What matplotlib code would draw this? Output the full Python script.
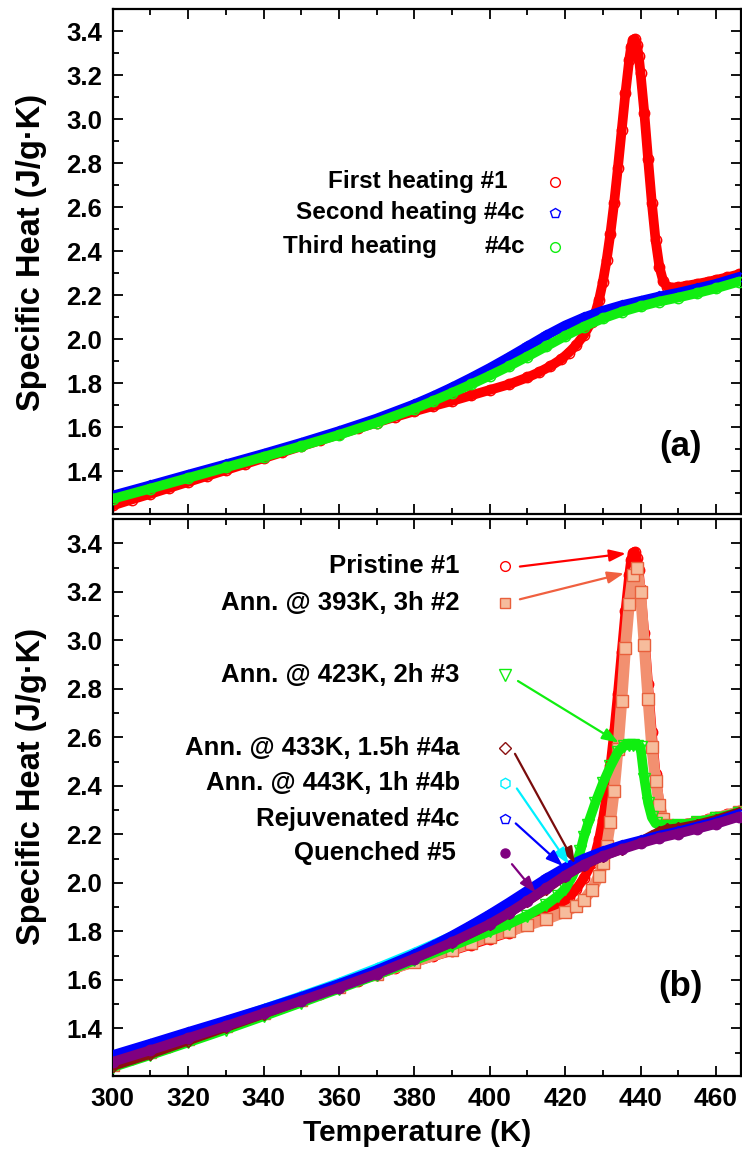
import matplotlib
matplotlib.use("Agg")
import matplotlib.pyplot as plt
from matplotlib.ticker import MultipleLocator

plt.rcParams['font.family'] = ['Liberation Sans', 'DejaVu Sans']
plt.rcParams['font.weight'] = 'bold'

# ---- data ----
# pristine sample #1 (first heating, panel a and b)
t_pristine = [300, 305, 310, 315, 320, 325, 330, 335, 340, 345, 350, 355, 360, 365, 370, 375,
              380, 385, 390, 395, 400, 405, 410, 413, 416, 419, 421, 423, 425, 427, 428, 429,
              430, 431, 432, 433, 434, 435, 436, 437, 437.5, 438, 438.5, 439, 439.5, 440, 441,
              442, 443, 444, 445, 446, 447, 448, 450, 452, 455, 458, 460, 463, 466]
cp_pristine = [1.245, 1.272, 1.298, 1.325, 1.352, 1.379, 1.406, 1.433, 1.460, 1.487, 1.514, 1.541,
               1.568, 1.595, 1.622, 1.648, 1.673, 1.697, 1.720, 1.745, 1.770, 1.795, 1.827, 1.850,
               1.877, 1.910, 1.940, 1.975, 2.020, 2.080, 2.120, 2.180, 2.260, 2.360, 2.480, 2.620,
               2.780, 2.950, 3.120, 3.270, 3.330, 3.360, 3.365, 3.340, 3.290, 3.210, 3.030, 2.820,
               2.620, 2.450, 2.330, 2.265, 2.240, 2.235, 2.237, 2.243, 2.252, 2.262, 2.270, 2.282,
               2.295]

# rejuvenated #4c (second heating)
t_rejuv = [300, 310, 320, 330, 340, 350, 360, 370, 380, 385, 390, 395, 400, 405, 410, 415,
           420, 425, 430, 435, 440, 445, 450, 455, 460, 466]
cp_rejuv = [1.290, 1.337, 1.385, 1.432, 1.480, 1.530, 1.583, 1.640, 1.705, 1.742, 1.782, 1.825,
            1.870, 1.918, 1.968, 2.018, 2.063, 2.100, 2.130, 2.155, 2.175, 2.195, 2.212, 2.232,
            2.252, 2.283]

# third heating #4c
t_third = [300, 310, 320, 330, 340, 350, 360, 370, 380, 385, 390, 395, 400, 405, 410, 415,
           420, 425, 430, 435, 440, 445, 450, 455, 460, 466]
cp_third = [1.275, 1.322, 1.370, 1.418, 1.466, 1.515, 1.566, 1.622, 1.685, 1.720, 1.757, 1.795,
            1.835, 1.877, 1.922, 1.968, 2.015, 2.058, 2.095, 2.125, 2.150, 2.172, 2.190, 2.210,
            2.232, 2.262]

# annealed 393K 3h #2
t_ann2 = [300, 310, 320, 330, 340, 350, 360, 370, 380, 390, 395, 400, 405, 410, 415, 420, 423,
          425, 427, 429, 430, 431, 432, 433, 434, 435, 436, 437, 438, 439, 440, 441, 442, 443,
          444, 445, 446, 447, 448, 450, 455, 460, 466]
cp_ann2 = [1.250, 1.302, 1.356, 1.410, 1.464, 1.518, 1.572, 1.625, 1.675, 1.725, 1.752, 1.778,
           1.800, 1.825, 1.850, 1.880, 1.905, 1.930, 1.970, 2.030, 2.080, 2.150, 2.250, 2.380,
           2.550, 2.750, 2.970, 3.150, 3.270, 3.300, 3.200, 2.980, 2.760, 2.560, 2.420, 2.320,
           2.265, 2.240, 2.230, 2.232, 2.248, 2.268, 2.292]

# annealed 423K 2h #3
t_ann3 = [300, 310, 320, 330, 340, 350, 360, 370, 380, 390, 400, 405, 410, 415, 418, 420, 422,
          423, 424, 425, 426, 428, 430, 432, 434, 435.5, 437, 438, 439, 440, 441, 442, 443, 444,
          446, 448, 450, 455, 460, 466]
cp_ann3 = [1.240, 1.290, 1.342, 1.395, 1.450, 1.506, 1.563, 1.620, 1.680, 1.740, 1.800, 1.830,
           1.865, 1.910, 1.945, 1.975, 2.030, 2.080, 2.130, 2.190, 2.240, 2.330, 2.410, 2.480,
           2.540, 2.565, 2.568, 2.568, 2.566, 2.560, 2.430, 2.330, 2.270, 2.245, 2.235, 2.235,
           2.238, 2.250, 2.268, 2.290]

# annealed 433K 1.5h #4a
t_ann4a = [300, 310, 320, 330, 340, 350, 360, 370, 380, 390, 400, 405, 410, 415, 420, 425, 430,
           435, 440, 443, 445, 447, 450, 455, 460, 466]
cp_ann4a = [1.245, 1.295, 1.350, 1.405, 1.460, 1.515, 1.572, 1.630, 1.690, 1.755, 1.830, 1.875,
            1.925, 1.975, 2.030, 2.075, 2.110, 2.140, 2.170, 2.195, 2.210, 2.220, 2.225, 2.240,
            2.260, 2.290]

# annealed 443K 1h #4b
t_ann4b = [300, 310, 320, 330, 340, 350, 360, 370, 380, 390, 400, 405, 410, 415, 420, 425, 430,
           435, 440, 445, 450, 455, 460, 466]
cp_ann4b = [1.275, 1.325, 1.377, 1.428, 1.480, 1.533, 1.588, 1.648, 1.712, 1.780, 1.855, 1.900,
            1.950, 2.000, 2.050, 2.090, 2.125, 2.150, 2.172, 2.190, 2.205, 2.225, 2.245, 2.275]

# quenched #5
t_quench = [300, 310, 320, 330, 340, 350, 360, 370, 380, 390, 400, 405, 410, 415, 420, 425, 430,
            435, 440, 445, 450, 455, 460, 466]
cp_quench = [1.262, 1.310, 1.360, 1.410, 1.462, 1.514, 1.568, 1.625, 1.688, 1.755, 1.830, 1.875,
             1.925, 1.978, 2.030, 2.075, 2.110, 2.138, 2.163, 2.185, 2.203, 2.223, 2.243, 2.272]

labels_b = ["Pristine #1", "Ann. @ 393K, 3h #2", "Ann. @ 423K, 2h #3", "Ann. @ 433K, 1.5h #4a",
            "Ann. @ 443K, 1h #4b", "Rejuvenated #4c", "Quenched #5"]

RED = "#ff0000"
SALMON_EDGE = "#e8603c"
SALMON_FACE = "#f6bc9c"
GREEN = "#10ee10"
DARKRED = "#8b1010"
CYAN = "#00f0ff"
BLUE = "#0000ff"
PURPLE = "#800080"


def draw_curve(ax, t, cp, color, marker, face="none", ms=7.5, lw=7, band=None, z=2):
    ax.plot(t, cp, "-", color=band or color, lw=lw, solid_capstyle="round",
            solid_joinstyle="round", zorder=z)
    ax.plot(t, cp, ls="none", marker=marker, mfc=face, mec=color, ms=ms, mew=1.0, zorder=z)


def style_axis(ax):
    ax.set_xlim(300, 466.6)
    ax.set_ylim(1.205, 3.50)
    ax.xaxis.set_major_locator(MultipleLocator(20))
    ax.xaxis.set_minor_locator(MultipleLocator(10))
    ax.yaxis.set_major_locator(MultipleLocator(0.2))
    ax.yaxis.set_minor_locator(MultipleLocator(0.1))
    ax.tick_params(which="both", direction="in", top=True, right=True, width=1.3)
    ax.tick_params(which="major", length=7.5)
    ax.tick_params(which="minor", length=4.5)
    ax.tick_params(axis="y", labelsize=18.5, pad=7.5)
    ax.tick_params(axis="x", labelsize=19, pad=8)
    ax.yaxis.set_major_formatter(plt.FuncFormatter(lambda v, p: f"{v:.1f}"))
    for s in ax.spines.values():
        s.set_linewidth(1.6)


fig = plt.figure(figsize=(7.42, 11.49), dpi=100)
ax1 = fig.add_axes([0.1519, 0.5524, 0.8465, 0.4395])
ax2 = fig.add_axes([0.1519, 0.0638, 0.8465, 0.4845])

# ---- panel (a) ----
draw_curve(ax1, t_pristine, cp_pristine, RED, "o", z=2)
draw_curve(ax1, t_rejuv, cp_rejuv, BLUE, "p", z=3)
draw_curve(ax1, t_third, cp_third, GREEN, "o", z=4)
style_axis(ax1)
ax1.tick_params(axis="x", labelbottom=False)

fs_a = 17.5
ax1.text(404.8, 2.717, "First heating #1", ha="right", va="center", fontsize=fs_a, fontweight="bold")
ax1.text(409.3, 2.576, "Second heating #4c", ha="right", va="center", fontsize=fs_a, fontweight="bold")
ax1.text(345.3, 2.421, "Third heating", ha="left", va="center", fontsize=fs_a, fontweight="bold")
ax1.text(409.3, 2.421, "#4c", ha="right", va="center", fontsize=fs_a, fontweight="bold")
ax1.plot([417.3], [2.717], ls="none", marker="o", mfc="none", mec=RED, ms=7, mew=1.0)
ax1.plot([417.3], [2.576], ls="none", marker="p", mfc="none", mec=BLUE, ms=7.5, mew=1.0)
ax1.plot([417.3], [2.421], ls="none", marker="o", mfc="none", mec=GREEN, ms=7, mew=1.0)
ax1.text(450.6, 1.512, "(a)", ha="center", va="center", fontsize=25, fontweight="bold")

# ---- panel (b) ----
draw_curve(ax2, t_pristine, cp_pristine, RED, "o", z=2)
draw_curve(ax2, t_ann2, cp_ann2, SALMON_EDGE, "s", face=SALMON_FACE, ms=8, lw=8,
           band="#f29070", z=3)
draw_curve(ax2, t_ann3, cp_ann3, GREEN, "v", ms=8, z=4)
draw_curve(ax2, t_ann4a, cp_ann4a, DARKRED, "D", ms=6.5, z=5)
draw_curve(ax2, t_ann4b, cp_ann4b, CYAN, "h", z=6)
draw_curve(ax2, t_rejuv, cp_rejuv, BLUE, "p", z=7)
draw_curve(ax2, t_quench, cp_quench, PURPLE, "o", face=PURPLE, z=8)
style_axis(ax2)

leg_y = [3.308, 3.152, 2.856, 2.557, 2.413, 2.265, 2.122]
leg_style = [("o", "none", RED, 7), ("s", SALMON_FACE, SALMON_EDGE, 7), ("v", "none", GREEN, 8),
             ("D", "none", DARKRED, 6.5), ("h", "none", CYAN, 7.5), ("p", "none", BLUE, 7.5),
             ("o", PURPLE, PURPLE, 6.5)]
arrow_col = [RED, "#f06040", GREEN, "#7a0c0c", CYAN, BLUE, PURPLE]
arrow_from = [(408.0, 3.304), (408.0, 3.169), (407.5, 2.832), (406.7, 2.532),
              (407.2, 2.389), (406.9, 2.245), (405.9, 2.077)]
arrow_to = [(436.1, 3.358), (435.6, 3.276), (434.2, 2.578), (422.6, 2.080),
            (421.0, 2.076), (419.4, 2.069), (412.2, 1.958)]

for i, lab in enumerate(labels_b):
    xr = 391.0 if i == 6 else 392.0
    ax2.text(xr, leg_y[i], lab, ha="right", va="center", fontsize=18.5, fontweight="bold", zorder=10)
    m, fc, ec, ms = leg_style[i]
    ax2.plot([404.0], [leg_y[i]], ls="none", marker=m, mfc=fc, mec=ec, ms=ms, mew=1.0, zorder=10)
    ax2.annotate("", xy=arrow_to[i], xytext=arrow_from[i],
                 arrowprops=dict(arrowstyle="-|>,head_length=0.55,head_width=0.2",
                                 color=arrow_col[i], lw=1.6, mutation_scale=18,
                                 shrinkA=0, shrinkB=0), zorder=11)

ax2.text(450.6, 1.572, "(b)", ha="center", va="center", fontsize=25, fontweight="bold")

fig.text(32 / 742, 1 - 252 / 1149, "Specific Heat (J/g\u00b7K)", rotation=90, ha="center",
         va="center", fontsize=23.5, fontweight="bold")
fig.text(32 / 742, 1 - 786 / 1149, "Specific Heat (J/g\u00b7K)", rotation=90, ha="center",
         va="center", fontsize=23.5, fontweight="bold")
fig.text(417 / 742, 1 - 1133 / 1149, "Temperature (K)", ha="center", va="center",
         fontsize=21.5, fontweight="bold")

fig.savefig("out.png", dpi=100)
